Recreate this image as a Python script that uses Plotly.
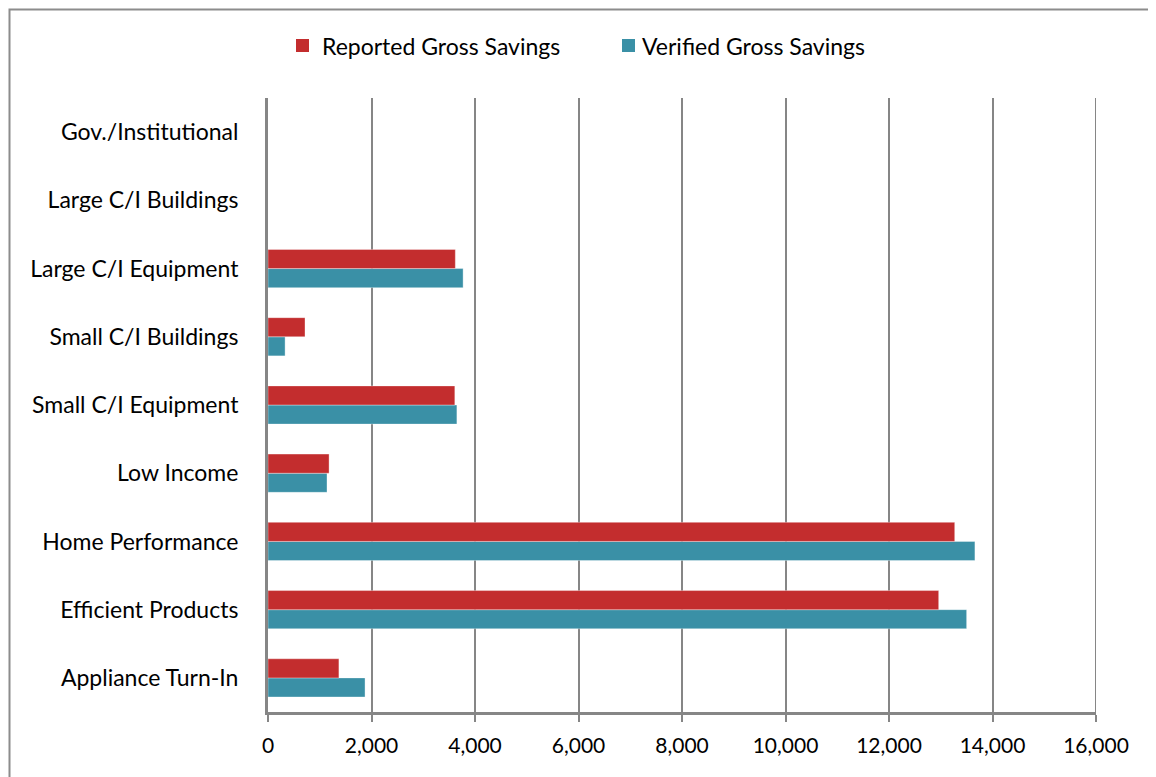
import plotly.graph_objects as go

categories = ["Appliance Turn-In", "Efficient Products", "Home Performance", "Low Income",
              "Small C/I Equipment", "Small C/I Buildings", "Large C/I Equipment",
              "Large C/I Buildings", "Gov./Institutional"]
reported = [1370, 12960, 13270, 1180, 3610, 715, 3620, None, None]
verified = [1875, 13500, 13660, 1140, 3650, 330, 3770, None, None]
x_ticks = [0, 2000, 4000, 6000, 8000, 10000, 12000, 14000, 16000]
x_tick_labels = ["0", "2,000", "4,000", "6,000", "8,000", "10,000", "12,000", "14,000", "16,000"]
series_names = ["Reported Gross Savings", "Verified Gross Savings"]

RED = "#C32D2E"
TEAL = "#3A90A6"
GRID = "#868686"
FONT = "Lato, Open Sans, sans-serif"

fig = go.Figure()
fig.add_trace(go.Bar(y=categories, x=verified, orientation="h", name=series_names[1],
                     marker=dict(color=TEAL, line=dict(color="rgba(255,255,255,0.35)", width=1))))
fig.add_trace(go.Bar(y=categories, x=reported, orientation="h", name=series_names[0],
                     marker=dict(color=RED, line=dict(color="rgba(255,255,255,0.35)", width=1))))

# page is offset by 8px body margin; work in page pixel coordinates
OFF = 8
W, H = 1156, 777
PX0, PX1, PY0, PY1 = 268, 1096, 98, 712  # plot area on page
L = PX0 - OFF
R = W - (PX1 - OFF)
T = PY0 - OFF
B = H - (PY1 - OFF)
pw, ph = PX1 - PX0, PY1 - PY0

def px_x(px):
    return (px - PX0) / pw

def px_y(py):
    return (PY1 - py) / ph

shapes = [dict(type="rect", xref="paper", yref="paper",
               x0=px_x(OFF + 1.5), x1=px_x(1200), y0=px_y(820), y1=px_y(OFF + 1.5),
               line=dict(color="#8C8C8C", width=2), fillcolor="rgba(0,0,0,0)", layer="below"),
          dict(type="line", xref="x", yref="paper", x0=16000, x1=16000, y0=0, y1=1,
               line=dict(color=GRID, width=2), layer="below")]
annotations = []
legend_items = [(series_names[0], RED, 296, 320), (series_names[1], TEAL, 622, 640)]
for name, col, sx, tx in legend_items:
    shapes.append(dict(type="rect", xref="paper", yref="paper",
                       x0=px_x(sx), x1=px_x(sx + 13), y0=px_y(52), y1=px_y(39),
                       fillcolor=col, line=dict(width=0)))
    annotations.append(dict(text=name, xref="paper", yref="paper", x=px_x(tx), y=px_y(46),
                            xanchor="left", yanchor="middle", showarrow=False,
                            font=dict(family=FONT, size=23, color="#000000")))

fig.update_layout(
    width=W, height=H,
    margin=dict(l=L, r=R, t=T, b=B, autoexpand=False),
    paper_bgcolor="white", plot_bgcolor="white",
    barmode="group", bargap=0.44, bargroupgap=0,
    font=dict(family=FONT, size=23, color="#000000"),
    showlegend=False,
    xaxis=dict(range=[0, 16000], tickvals=x_ticks, ticktext=x_tick_labels,
               showgrid=True, gridcolor=GRID, gridwidth=2,
               showline=True, linecolor=GRID, linewidth=3,
               ticks="outside", ticklen=7, tickcolor=GRID, tickwidth=2,
               ticklabelstandoff=6,
               zeroline=False, tickfont=dict(size=21), fixedrange=True),
    yaxis=dict(categoryorder="array", categoryarray=categories,
               showgrid=False, zeroline=False, showline=True, linecolor=GRID, linewidth=3,
               ticks="outside", ticklen=22, tickcolor="rgba(0,0,0,0)",
               tickfont=dict(size=23), fixedrange=True),
    shapes=shapes,
    annotations=annotations,
)

fig.write_html("out.html")
